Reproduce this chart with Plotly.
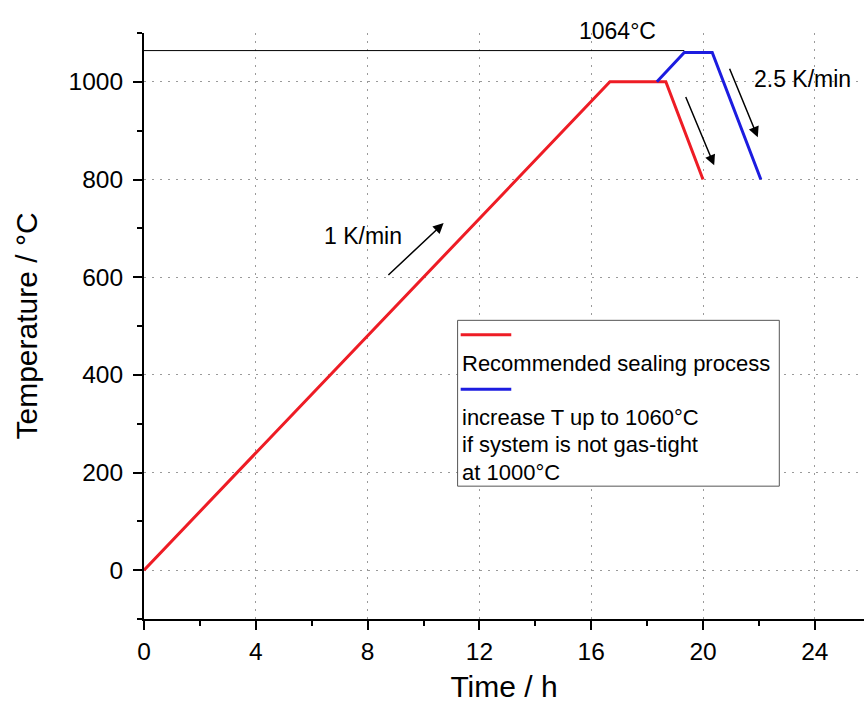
import plotly.graph_objects as go

# ---- data ----
red_time = [0, 16.67, 18.67, 20.0]
red_temp = [0, 1000, 1000, 800]
blue_time = [18.35, 19.33, 20.33, 22.07]
blue_temp = [1000, 1060, 1060, 800]
ref_time = [0, 19.33]
ref_temp = [1064, 1064]

x_ticks = [0, 4, 8, 12, 16, 20, 24]
y_ticks = [0, 200, 400, 600, 800, 1000]

legend_labels = ["Recommended sealing process",
                 "increase T up to 1060°C",
                 "if system is not gas-tight",
                 "at 1000°C"]

RED = "#ee1c25"
BLUE = "#1c1ce0"
FONT = "Liberation Sans, Arial, sans-serif"

fig = go.Figure()
fig.add_trace(go.Scatter(x=ref_time, y=ref_temp, mode="lines",
                         line=dict(color="black", width=1), showlegend=False,
                         hoverinfo="skip"))
fig.add_trace(go.Scatter(x=red_time, y=red_temp, mode="lines",
                         line=dict(color=RED, width=3), showlegend=False))
fig.add_trace(go.Scatter(x=blue_time, y=blue_temp, mode="lines",
                         line=dict(color=BLUE, width=3), showlegend=False))

# legend box (manual, text below line samples)
fig.add_shape(type="rect", x0=11.22, x1=22.73, y0=172, y1=511.6,
              xref="x", yref="y", fillcolor="white",
              line=dict(color="#555555", width=1), layer="above")
fig.add_shape(type="line", x0=11.33, x1=13.14, y0=482, y1=482,
              line=dict(color=RED, width=3), layer="above")
fig.add_shape(type="line", x0=11.33, x1=13.14, y0=370.5, y1=370.5,
              line=dict(color=BLUE, width=3), layer="above")
for lab, yy in zip(legend_labels, [423.6, 313, 257.8, 200.5]):
    fig.add_annotation(x=11.31, y=yy, text=lab, showarrow=False,
                       xanchor="left", yanchor="middle",
                       font=dict(size=22, color="black", family=FONT))

# rate annotations
fig.add_annotation(x=10.72, y=710.7, ax=8.69, ay=601.6, axref="x", ayref="y",
                   showarrow=True, arrowhead=2, arrowsize=1.4, arrowwidth=1.5,
                   arrowcolor="black", text="")
fig.add_annotation(x=20.4, y=829, ax=19.36, ay=972, axref="x", ayref="y",
                   showarrow=True, arrowhead=2, arrowsize=1.4, arrowwidth=1.5,
                   arrowcolor="black", text="")
fig.add_annotation(x=21.96, y=886.6, ax=20.93, ay=1030, axref="x", ayref="y",
                   showarrow=True, arrowhead=2, arrowsize=1.4, arrowwidth=1.5,
                   arrowcolor="black", text="")
fig.add_annotation(x=7.85, y=684, text="1 K/min", showarrow=False,
                   font=dict(size=23, color="black", family=FONT))
fig.add_annotation(x=21.75, y=1006, text="2.5 K/min", showarrow=False,
                   xanchor="left",
                   font=dict(size=23, color="black", family=FONT))
fig.add_annotation(x=16.93, xref="x", y=1.0027, yref="paper", text="1064°C",
                   showarrow=False, yanchor="middle",
                   font=dict(size=23, color="black", family=FONT))

axis_common = dict(showline=True, linecolor="black", linewidth=2,
                   ticks="outside", ticklen=9, tickwidth=2, tickcolor="black",
                   showgrid=True, gridcolor="#9a9a9a", gridwidth=1,
                   griddash="2px,6px", zeroline=False,
                   tickfont=dict(size=24.5, color="black", family=FONT),
                   title_font=dict(size=30, color="black", family=FONT))

fig.update_xaxes(range=[0, 25.76], tickvals=x_ticks,
                 ticktext=[str(v) for v in x_ticks],
                 minor=dict(dtick=2, ticks="outside", ticklen=5, tickwidth=2,
                            tickcolor="black", showgrid=False),
                 ticklabelstandoff=1,
                 title_text="Time / h", title_standoff=12, **axis_common)
fig.update_yaxes(range=[-100, 1100], tickvals=y_ticks,
                 ticktext=[str(v) for v in y_ticks],
                 minor=dict(dtick=100, ticks="outside", ticklen=5, tickwidth=2,
                            tickcolor="black", showgrid=False),
                 ticklabelstandoff=5,
                 title_text="Temperature / °C", title_standoff=22, **axis_common)

fig.update_layout(width=864, height=706,
                  margin=dict(l=144, r=0, t=33, b=87),
                  plot_bgcolor="white", paper_bgcolor="white",
                  showlegend=False,
                  font=dict(family=FONT, color="black"))

fig.write_html("out.html")
